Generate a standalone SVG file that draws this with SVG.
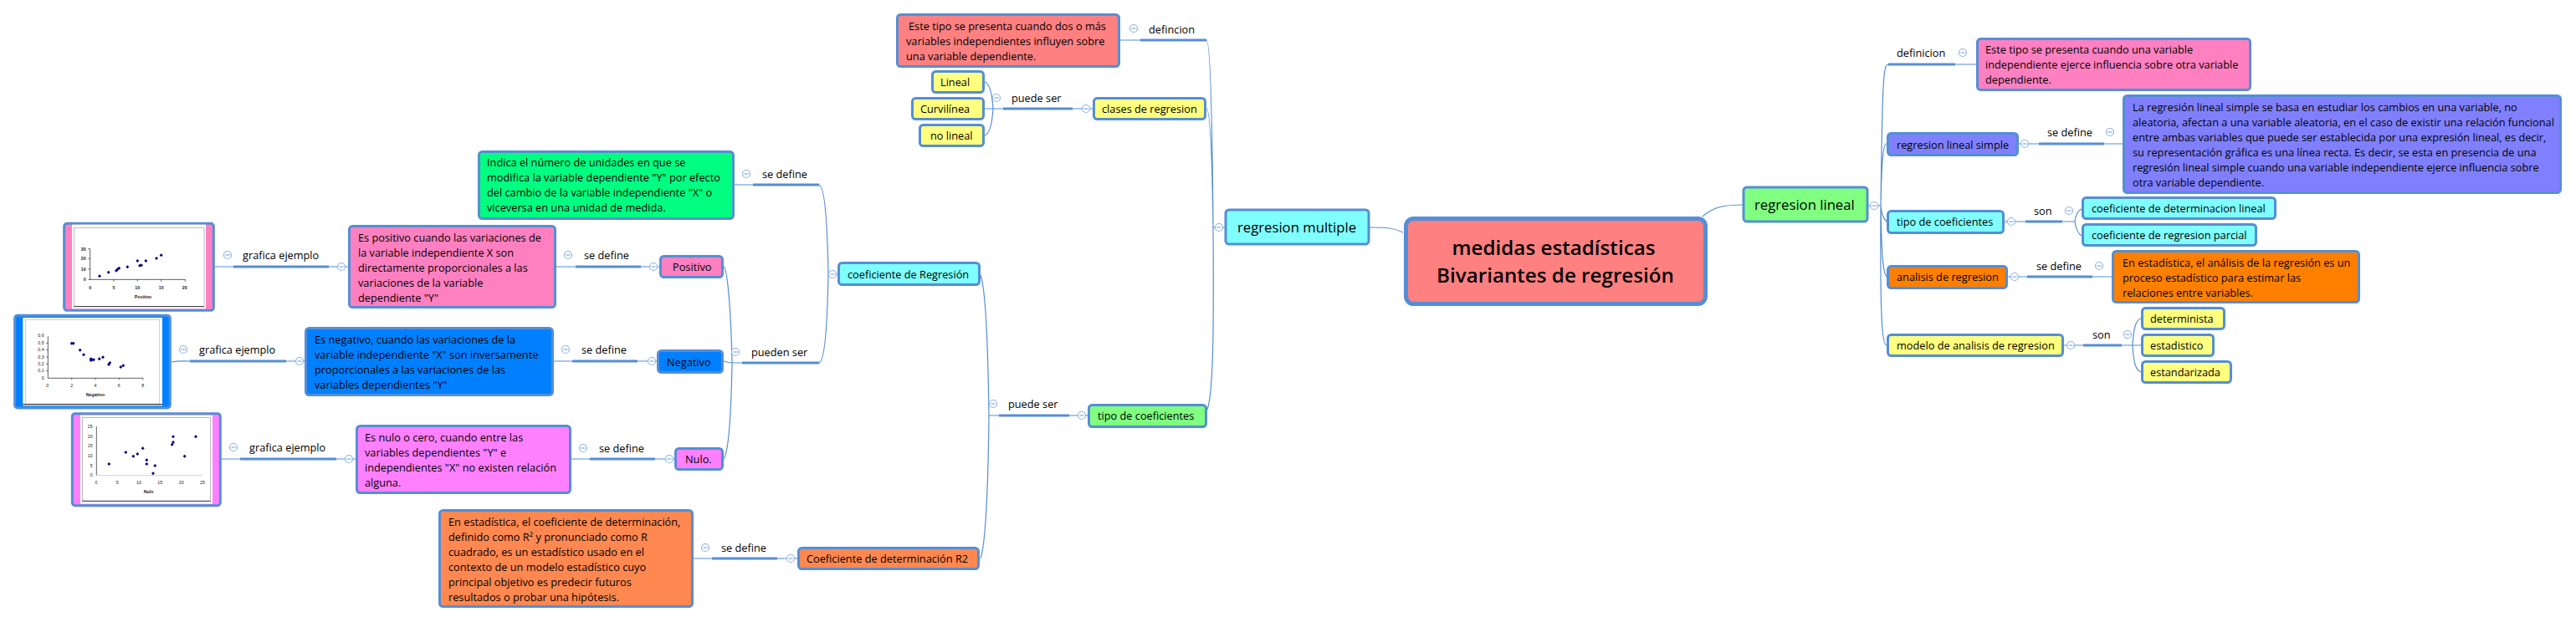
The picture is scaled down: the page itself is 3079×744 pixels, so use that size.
<svg xmlns="http://www.w3.org/2000/svg" width="3079" height="744" viewBox="0 0 3079 744">
<style>
text{font-family:"Open Sans","Noto Sans",sans-serif;font-size:12.75px;fill:#000}
.b{stroke:#558ed5;stroke-width:3}
.c{fill:none;stroke:#558ed5;stroke-width:1.2}
.bar{fill:none;stroke:#558ed5;stroke-width:3}
.lg{font-size:16.7px}
.ch text{font-family:"Liberation Sans",Arial,sans-serif;font-size:16px;font-weight:bold;fill:#222}
.ax{fill:none;stroke:#111;stroke-width:2}
.fr{fill:#fff;stroke:#999;stroke-width:2}
</style>
<defs>
<g id="m"><circle r="4.5" fill="#fff" stroke="#8fb4e3" stroke-width="1.2"/><path d="M-2.5 0H2.5" stroke="#6f9bd8" stroke-width="1"/></g>
<path id="d" d="M0-6L6 0L0 6L-6 0Z" fill="#000080"/>
</defs>
<g id="connectors">
<path class="c" d="M2035 259C2048 247 2062 245 2083 245M1637 272C1655 272 1665 272 1677 278"/>
<path class="c" d="M2233 246H2248M2257 77C2251 77 2250 95 2248 246C2247 390 2250 413 2255 413M2255 172C2250 172 2249 200 2248 246M2255 265C2250 260 2249 255 2248 246M2255 331C2250 325 2249 300 2248 246"/>
<path class="bar" d="M2257 77H2337M2437 172H2515M2421 265H2465M2423 331H2501M2490 413H2536"/>
<path class="c" d="M2337 77H2362M2413 172H2437M2515 172H2537M2396 265H2421M2465 265H2480M2488 250C2483 252 2481 258 2480 265C2481 272 2483 279 2488 282M2400 331H2423M2501 331H2524M2467 413H2490M2536 413H2559M2559 381C2552 383 2550 395 2549 413C2550 431 2552 443 2559 445"/>
<path class="c" d="M1464 272H1450M1442 48C1447 48 1449 150 1450 272C1451 400 1450 470 1443 490M1442 130C1447 130 1449 200 1450 272"/>
<path class="bar" d="M1363 48H1442M1199 130H1282M1194 497H1278M887 434H979M900 221H979M851 668H929M688 319H766M684 432H762M705 549H783M279 319H393M227 432H342M287 549H402"/>
<path class="c" d="M1339 48H1363M1177 130H1199M1282 130H1306M1177 98C1184 100 1186 115 1187 130C1186 145 1184 160 1177 162M1300 497H1278M1194 497H1182M1172 329C1178 345 1181 420 1182 497C1181 590 1178 650 1172 668"/>
<path class="c" d="M1001 328H990M979 221C986 223 989 270 990 328C989 385 986 432 979 434M878 221H900M887 434H875M865 319C870 322 874 380 875 434C874 490 871 540 865 549M865 432C869 433 871 434 875 434M664 319H688M766 319H788M662 432H684M762 432H785M683 549H705M783 549H806M257 319H279M393 319H416M205 433C215 431 220 432 227 432M342 432H364M265 549H287M402 549H425M829 668H851M929 668H953"/>
</g>
<g id="center"><rect class="b" x="1680.5" y="261.5" width="358" height="102" rx="9" fill="#ff8080" style="stroke-width:5"/><text x="1857" y="305" text-anchor="middle" font-weight="600" style="font-size:24.2px">medidas estadísticas</text><text x="1859" y="338" text-anchor="middle" font-weight="600" style="font-size:24.2px">Bivariantes de regresión</text></g>
<g id="regresion-lineal"><rect class="b" x="2084" y="224" width="148" height="41" rx="4" fill="#80ff80"/><text class="lg" x="2097" y="251">regresion lineal</text></g>
<g id="definicion-r"><text x="2267" y="68">definicion</text></g>
<g id="def-r-box"><rect class="b" x="2363.5" y="46.5" width="326" height="61" rx="4" fill="#ff80c0"/><text x="2373" y="64">Este tipo se presenta cuando una variable</text><text x="2373" y="82">independiente ejerce influencia sobre otra variable</text><text x="2373" y="100">dependiente.</text></g>
<g id="rls"><rect class="b" x="2256.5" y="159.5" width="155" height="26" rx="4" fill="#8080ff"/><text x="2267" y="178">regresion lineal simple</text></g>
<g id="rls-label"><text x="2447" y="163">se define</text></g>
<g id="rls-box"><rect class="b" x="2538.5" y="114.5" width="522" height="116" rx="4" fill="#8080ff"/><text x="2549" y="133">La regresión lineal simple se basa en estudiar los cambios en una variable, no</text><text x="2549" y="151">aleatoria, afectan a una variable aleatoria, en el caso de existir una relación funcional</text><text x="2549" y="169">entre ambas variables que puede ser establecida por una expresión lineal, es decir,</text><text x="2549" y="187">su representación gráfica es una línea recta. Es decir, se esta en presencia de una</text><text x="2549" y="205">regresión lineal simple cuando una variable independiente ejerce influencia sobre</text><text x="2549" y="223">otra variable dependiente.</text></g>
<g id="tipo-r"><rect class="b" x="2256.5" y="252.5" width="138" height="26" rx="4" fill="#80ffff"/><text x="2267" y="270">tipo de coeficientes</text></g>
<g id="son-1"><text x="2431" y="257">son</text></g>
<g id="coef-det"><rect class="b" x="2489.5" y="236.5" width="230" height="25" rx="4" fill="#80ffff"/><text x="2500" y="254">coeficiente de determinacion lineal</text></g>
<g id="coef-par"><rect class="b" x="2489.5" y="268.5" width="207" height="25" rx="4" fill="#80ffff"/><text x="2500" y="286">coeficiente de regresion parcial</text></g>
<g id="analisis"><rect class="b" x="2256.5" y="318.5" width="142" height="26" rx="4" fill="#ff8000"/><text x="2267" y="336">analisis de regresion</text></g>
<g id="analisis-label"><text x="2434" y="323">se define</text></g>
<g id="analisis-box"><rect class="b" x="2525.5" y="300.5" width="294" height="61" rx="4" fill="#ff8000"/><text x="2537" y="319">En estadística, el análisis de la regresión es un</text><text x="2537" y="337">proceso estadístico para estimar las</text><text x="2537" y="355">relaciones entre variables.</text></g>
<g id="modelo"><rect class="b" x="2256.5" y="400.5" width="209" height="25" rx="4" fill="#ffff80"/><text x="2267" y="418">modelo de analisis de regresion</text></g>
<g id="son-2"><text x="2501" y="405">son</text></g>
<g id="determinista"><rect class="b" x="2560.5" y="368.5" width="98" height="25" rx="4" fill="#ffff80"/><text x="2570" y="386">determinista</text></g>
<g id="estadistico"><rect class="b" x="2560.5" y="400.5" width="85" height="25" rx="4" fill="#ffff80"/><text x="2570" y="418">estadistico</text></g>
<g id="estandarizada"><rect class="b" x="2560.5" y="432.5" width="106" height="25" rx="4" fill="#ffff80"/><text x="2570" y="450">estandarizada</text></g>
<g id="regresion-multiple"><rect class="b" x="1465" y="251" width="171" height="41" rx="4" fill="#80ffff"/><text class="lg" x="1479" y="278">regresion multiple</text></g>
<g id="def-m"><text x="1373" y="40">defincion</text></g>
<g id="def-m-box"><rect class="b" x="1072.5" y="17.5" width="265" height="62" rx="4" fill="#ff8080"/><text x="1086" y="36">Este tipo se presenta cuando dos o más</text><text x="1083" y="54">variables independientes influyen sobre</text><text x="1083" y="72">una variable dependiente.</text></g>
<g id="clases"><rect class="b" x="1307.5" y="117.5" width="133" height="25" rx="4" fill="#ffff80"/><text x="1317" y="135">clases de regresion</text></g>
<g id="puede-ser-1"><text x="1209" y="122">puede ser</text></g>
<g id="lineal"><rect class="b" x="1114.5" y="85.5" width="61" height="25" rx="4" fill="#ffff80"/><text x="1124" y="103">Lineal</text></g>
<g id="curvilinea"><rect class="b" x="1090.5" y="117.5" width="85" height="25" rx="4" fill="#ffff80"/><text x="1100" y="135">Curvilínea</text></g>
<g id="no-lineal"><rect class="b" x="1099.5" y="149.5" width="76" height="25" rx="4" fill="#ffff80"/><text x="1112" y="167">no lineal</text></g>
<g id="tipo-m"><rect class="b" x="1301.5" y="484.5" width="140" height="26" rx="4" fill="#80ff80"/><text x="1312" y="502">tipo de coeficientes</text></g>
<g id="puede-ser-2"><text x="1205" y="488">puede ser</text></g>
<g id="coef-regresion"><rect class="b" x="1002.5" y="314.5" width="168" height="26" rx="4" fill="#80ffff"/><text x="1013" y="333">coeficiente de Regresión</text></g>
<g id="se-define-g"><text x="911" y="213">se define</text></g>
<g id="green-box"><rect class="b" x="572.5" y="181.5" width="304" height="80" rx="4" fill="#00ff80"/><text x="582" y="199">Indica el número de unidades en que se</text><text x="582" y="217">modifica la variable dependiente "Y" por efecto</text><text x="582" y="235">del cambio de la variable independiente "X" o</text><text x="582" y="253">viceversa en una unidad de medida.</text></g>
<g id="pueden-ser"><text x="898" y="426">pueden ser</text></g>
<g id="positivo"><rect class="b" x="789.5" y="306.5" width="74" height="25" rx="4" fill="#ff80c0"/><text x="804" y="324">Positivo</text></g>
<g id="positivo-label"><text x="698" y="310">se define</text></g>
<g id="positivo-box"><rect class="b" x="417.5" y="270.5" width="246" height="97" rx="4" fill="#ff80c0"/><text x="428" y="289">Es positivo cuando las variaciones de</text><text x="428" y="307">la variable independiente X son</text><text x="428" y="325">directamente proporcionales a las</text><text x="428" y="343">variaciones de la variable</text><text x="428" y="361">dependiente "Y"</text></g>
<g id="negativo"><rect class="b" x="786.5" y="419.5" width="77" height="26" rx="4" fill="#0080ff"/><text x="797" y="438">Negativo</text></g>
<g id="negativo-label"><text x="695" y="423">se define</text></g>
<g id="negativo-box"><rect class="b" x="365.5" y="392.5" width="295" height="80" rx="4" fill="#0080ff"/><text x="376" y="411">Es negativo, cuando las variaciones de la</text><text x="376" y="429">variable independiente "X" son inversamente</text><text x="376" y="447">proporcionales a las variaciones de las</text><text x="376" y="465">variables dependientes "Y"</text></g>
<g id="nulo"><rect class="b" x="807.5" y="536.5" width="56" height="25" rx="4" fill="#ff80ff"/><text x="819" y="554">Nulo.</text></g>
<g id="nulo-label"><text x="716" y="541">se define</text></g>
<g id="nulo-box"><rect class="b" x="426.5" y="509.5" width="255" height="80" rx="4" fill="#ff80ff"/><text x="436" y="528">Es nulo o cero, cuando entre las</text><text x="436" y="546">variables dependientes "Y" e</text><text x="436" y="564">independientes "X" no existen relación</text><text x="436" y="582">alguna.</text></g>
<g id="r2"><rect class="b" x="954.5" y="655.5" width="215" height="25" rx="4" fill="#ff8850"/><text x="964" y="673">Coeficiente de determinación R2</text></g>
<g id="r2-label"><text x="862" y="660">se define</text></g>
<g id="r2-box"><rect class="b" x="525.5" y="610.5" width="302" height="115" rx="4" fill="#ff8850"/><text x="536" y="629">En estadística, el coeficiente de determinación,</text><text x="536" y="647">definido como R² y pronunciado como R</text><text x="536" y="665">cuadrado, es un estadístico usado en el</text><text x="536" y="683">contexto de un modelo estadístico cuyo</text><text x="536" y="701">principal objetivo es predecir futuros</text><text x="536" y="719">resultados o probar una hipótesis.</text></g>
<g id="lbl-graf-1"><text x="290" y="310">grafica ejemplo</text></g>
<g id="lbl-graf-2"><text x="238" y="423">grafica ejemplo</text></g>
<g id="lbl-graf-3"><text x="298" y="540">grafica ejemplo</text></g>
<g id="chart-positivo" class="ch" transform="translate(60 250) scale(.33333)">
<rect x="50" y="52" width="536" height="312" rx="10" fill="#ff80c0" stroke="#558ed5" stroke-width="9"/>
<rect x="78" y="56" width="480" height="302" fill="#fff"/>
<rect class="fr" x="85" y="67" width="467" height="283"/><path d="M85 350H552" stroke="#333" stroke-width="3"/>
<path class="ax" d="M143 143V253H484M136 143H143M136 178H143M136 216H143M136 253H143M228 253V260M313 253V260M398 253V260M484 253V260"/>
<text x="128" y="149" text-anchor="end">30</text><text x="128" y="184" text-anchor="end">20</text><text x="128" y="222" text-anchor="end">10</text><text x="128" y="258" text-anchor="end">0</text>
<text x="143" y="287" text-anchor="middle">0</text><text x="228" y="287" text-anchor="middle">5</text><text x="313" y="287" text-anchor="middle">10</text><text x="398" y="287" text-anchor="middle">15</text><text x="482" y="287" text-anchor="middle">20</text>
<text x="333" y="322" text-anchor="middle">Positivo</text>
<use href="#d" x="177" y="241"/><use href="#d" x="209" y="227"/><use href="#d" x="237" y="221"/><use href="#d" x="241" y="217"/><use href="#d" x="247" y="212"/><use href="#d" x="277" y="208"/><use href="#d" x="313" y="186"/><use href="#d" x="321" y="203"/><use href="#d" x="327" y="202"/><use href="#d" x="343" y="186"/><use href="#d" x="381" y="177"/><use href="#d" x="398" y="166"/>
</g>
<g id="chart-negativo" class="ch" transform="translate(0 360) scale(.33333)">
<rect x="53" y="52" width="557" height="332" rx="10" fill="#0080ff" stroke="#558ed5" stroke-width="9"/>
<rect x="82" y="60" width="500" height="316" fill="#fff"/>
<rect x="92" y="67" width="480" height="303" fill="#fff" stroke="#ccc" stroke-width="3"/><path d="M82 371H582" stroke="#111" stroke-width="3"/>
<path class="ax" d="M172 127V277H513M166 151H172M166 176H172M166 201H172M166 226H172M166 251H172M257 277V283M342 277V283M427 277V283M513 277V283"/>
<text x="158" y="130" text-anchor="end" style="font-weight:400">0,6</text><text x="158" y="156" text-anchor="end" style="font-weight:400">0,5</text><text x="158" y="181" text-anchor="end" style="font-weight:400">0,4</text><text x="158" y="206" text-anchor="end" style="font-weight:400">0,3</text><text x="158" y="231" text-anchor="end" style="font-weight:400">0,2</text><text x="158" y="256" text-anchor="end" style="font-weight:400">0,1</text><text x="158" y="282" text-anchor="end" style="font-weight:400">0</text>
<text x="170" y="308" text-anchor="middle" style="font-weight:400">0</text><text x="257" y="308" text-anchor="middle" style="font-weight:400">2</text><text x="342" y="308" text-anchor="middle" style="font-weight:400">4</text><text x="427" y="308" text-anchor="middle" style="font-weight:400">6</text><text x="512" y="308" text-anchor="middle" style="font-weight:400">8</text>
<text x="342" y="343" text-anchor="middle">Negativo</text>
<use href="#d" x="257" y="152"/><use href="#d" x="263" y="152"/><use href="#d" x="287" y="176"/><use href="#d" x="300" y="193"/><use href="#d" x="326" y="208"/><use href="#d" x="326" y="213"/><use href="#d" x="330" y="211"/><use href="#d" x="336" y="211"/><use href="#d" x="356" y="208"/><use href="#d" x="369" y="202"/><use href="#d" x="390" y="228"/><use href="#d" x="394" y="222"/><use href="#d" x="433" y="237"/><use href="#d" x="442" y="232"/>
</g>
<g id="chart-nulo" class="ch" transform="translate(70 480) scale(.33333)">
<rect x="49" y="44" width="531" height="330" rx="10" fill="#ff80ff" stroke="#558ed5" stroke-width="9"/>
<rect x="78" y="50" width="474" height="318" fill="#fff"/>
<rect class="fr" x="85" y="58" width="460" height="300"/><path d="M85 358H545" stroke="#333" stroke-width="3"/>
<path class="ax" d="M136 90V266"/><path d="M136 266H516" stroke="#bbb" stroke-width="2"/>
<text x="122" y="96" text-anchor="end" style="font-weight:400">25</text><text x="122" y="131" text-anchor="end" style="font-weight:400">20</text><text x="122" y="166" text-anchor="end" style="font-weight:400">15</text><text x="122" y="202" text-anchor="end" style="font-weight:400">10</text><text x="122" y="237" text-anchor="end" style="font-weight:400">5</text><text x="122" y="271" text-anchor="end" style="font-weight:400">0</text>
<text x="135" y="296" text-anchor="middle" style="font-weight:400">0</text><text x="211" y="296" text-anchor="middle" style="font-weight:400">5</text><text x="288" y="296" text-anchor="middle" style="font-weight:400">10</text><text x="364" y="296" text-anchor="middle" style="font-weight:400">15</text><text x="440" y="296" text-anchor="middle" style="font-weight:400">20</text><text x="516" y="296" text-anchor="middle" style="font-weight:400">25</text>
<text x="323" y="330" text-anchor="middle">Nulo</text>
<use href="#d" x="181" y="225"/><use href="#d" x="241" y="183"/><use href="#d" x="268" y="197"/><use href="#d" x="283" y="189"/><use href="#d" x="302" y="169"/><use href="#d" x="316" y="211"/><use href="#d" x="316" y="225"/><use href="#d" x="346" y="231"/><use href="#d" x="339" y="259"/><use href="#d" x="407" y="155"/><use href="#d" x="411" y="147"/><use href="#d" x="411" y="127"/><use href="#d" x="452" y="197"/><use href="#d" x="492" y="127"/>
</g>
<g id="toggles">
<use href="#m" x="2240" y="246"/><use href="#m" x="2346" y="63"/><use href="#m" x="2420" y="172"/><use href="#m" x="2522" y="158"/><use href="#m" x="2404" y="265"/><use href="#m" x="2473" y="252"/><use href="#m" x="2408" y="331"/><use href="#m" x="2509" y="318"/><use href="#m" x="2475" y="413"/><use href="#m" x="2543" y="400"/>
<use href="#m" x="1457" y="272"/><use href="#m" x="1355" y="34"/><use href="#m" x="1298" y="130"/><use href="#m" x="1191" y="117"/><use href="#m" x="1293" y="497"/><use href="#m" x="1187" y="483"/><use href="#m" x="995" y="328"/><use href="#m" x="892" y="208"/><use href="#m" x="879" y="421"/><use href="#m" x="781" y="319"/><use href="#m" x="679" y="305"/><use href="#m" x="779" y="432"/><use href="#m" x="676" y="418"/><use href="#m" x="800" y="549"/><use href="#m" x="697" y="536"/><use href="#m" x="945" y="668"/><use href="#m" x="843" y="655"/><use href="#m" x="408" y="319"/><use href="#m" x="272" y="305"/><use href="#m" x="358" y="432"/><use href="#m" x="219" y="418"/><use href="#m" x="417" y="549"/><use href="#m" x="279" y="535"/>
</g>
</svg>
